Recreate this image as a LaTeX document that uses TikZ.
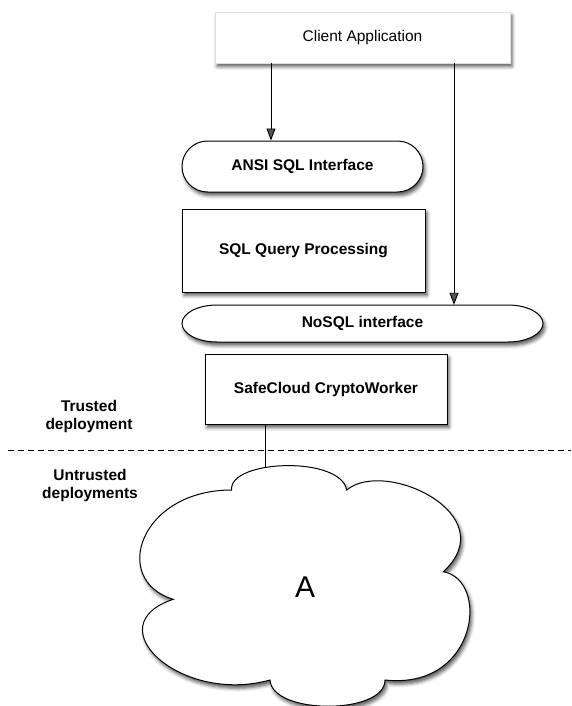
\documentclass[tikz,border=0pt]{standalone}
\usepackage{fontspec}
\setmainfont{Liberation Sans}
\usetikzlibrary{arrows.meta,shadows.blur,calc}
\begin{document}
\begin{tikzpicture}[x=1pt,y=-1pt,
  lbl/.style={font=\fontsize{15.5}{18}\selectfont\bfseries},
  softshadow/.style={blur shadow={shadow xshift=2pt,shadow yshift=-3.5pt,shadow blur radius=3.5pt,shadow opacity=65}},
  boxnode/.style={draw=black,line width=1pt,fill=white,softshadow,lbl,inner sep=0pt},
  arr/.style={line width=0.9pt,-{Triangle[length=12pt,width=9pt]}},
  conn/.style={line width=0.9pt}]
\useasboundingbox (0,0) rectangle (571,706);

% client on top
\node[draw=gray!25,line width=0.6pt,fill=white,softshadow,inner sep=0pt,
      minimum width=295pt,minimum height=51pt,
      font=\fontsize{15.5}{18}\selectfont] (client) at (362.5,37.5) {Client Application};

% SQL layer
\node[boxnode,rounded corners=25.5pt,minimum width=241pt,minimum height=51pt] (ansi) at (302.5,166.5) {ANSI SQL Interface};
\node[boxnode,minimum width=243pt,minimum height=83pt] (sqp) at (303.5,250.5) {SQL Query Processing};

% NoSQL interface with elliptical ends
\coordinate (nc) at (362.5,323.5);
\draw[line width=1pt,fill=white,softshadow]
  ($(nc)+(-145.5,-18.5)$) -- ($(nc)+(145.5,-18.5)$)
  arc[start angle=90,end angle=-90,x radius=35pt,y radius=18.5pt]
  -- ($(nc)+(-145.5,18.5)$)
  arc[start angle=270,end angle=90,x radius=35pt,y radius=18.5pt] -- cycle;
\node[lbl,minimum width=361pt,minimum height=37pt,inner sep=0pt] (nosql) at (nc) {NoSQL interface};

\node[boxnode,minimum width=242pt,minimum height=70pt] (scw) at (326,389) {SafeCloud CryptoWorker};

% trust boundary
\coordinate (dl) at (8,450);
\coordinate (dr) at (571,450);
\draw[line width=0.9pt,dash pattern=on 6pt off 4pt] (dl) -- (dr);
\node[lbl,align=center] (trusted) at (89,416) {Trusted\\deployment};
\node[lbl,align=center] (untrusted) at (90,485) {Untrusted\\deployments};

% cloud
\draw[line width=1pt,fill=white,softshadow]
  (231.7,490) .. controls (228,460) and (340,455) .. (346.7,490)
  .. controls (385,458) and (505,515) .. (443.3,571.7)
  .. controls (490,580) and (478,690) .. (385,680)
  .. controls (385,715) and (272,715) .. (270,680)
  .. controls (180,705) and (95,625) .. (173.3,599.3)
  .. controls (110,580) and (140,490) .. (231.7,490) -- cycle;
\node[font=\fontsize{30}{34}\selectfont] (cloudA) at (305,587) {A};
\coordinate (cloudtop) at (265,467);

% connectors
\coordinate (c1) at (271,0);
\coordinate (c2) at (454,0);
\coordinate (c3) at (265,0);
\draw[arr] (c1 |- client.south) -- (c1 |- ansi.north);
\draw[arr] (c2 |- client.south) -- (c2 |- nosql.north);
\draw[conn] (c3 |- scw.south) -- (cloudtop);
\end{tikzpicture}
\end{document}
